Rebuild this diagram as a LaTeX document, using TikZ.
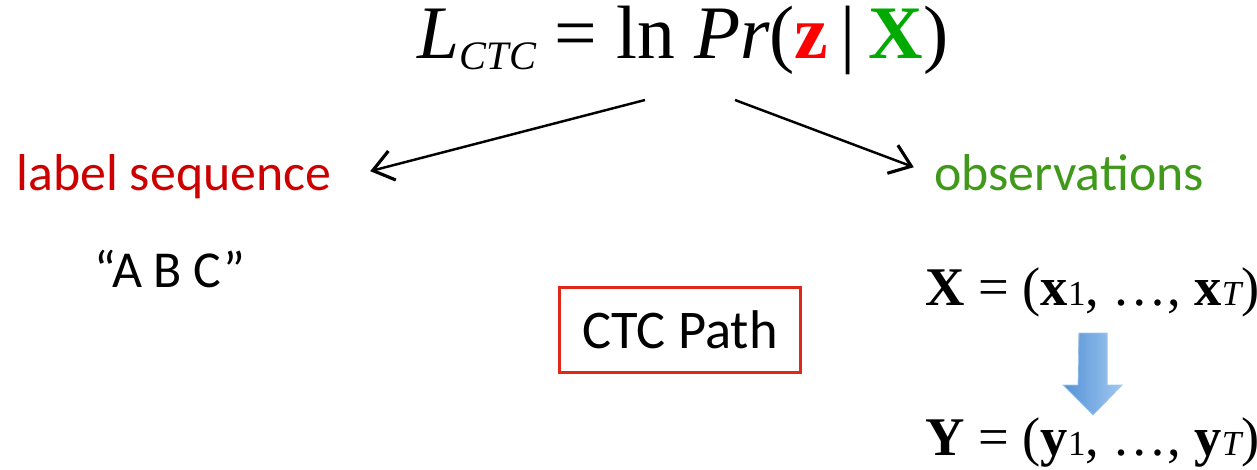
\documentclass[tikz,border=0pt]{standalone}
\usepackage{fontspec}
\setmainfont{Carlito}
\newfontfamily\tms{Liberation Serif}
\usetikzlibrary{arrows.meta,positioning}
\usepackage{xcolor}
\definecolor{lblred}{RGB}{204,0,0}
\definecolor{obsgreen}{RGB}{64,153,26}
\definecolor{zred}{RGB}{255,0,0}
\definecolor{xgreen}{RGB}{0,170,0}
\definecolor{boxred}{RGB}{224,40,20}
\definecolor{arrdark}{RGB}{84,146,214}
\definecolor{arrlight}{RGB}{160,200,240}
\newcommand{\lowsub}[1]{{\fontsize{20}{20}\selectfont #1}}

\begin{document}
\begin{tikzpicture}[
      every node/.style={inner sep=2pt},
      wordtext/.style={font=\fontsize{29.5}{35}\selectfont, anchor=base},
      eqtext/.style={font=\tms\fontsize{31}{37}\selectfont, anchor=base},
      pathbox/.style={
        rectangle, draw=boxred, line width=1.2pt,
        minimum width=4.82cm, minimum height=1.7cm,
        font=\fontsize{31}{37}\selectfont
      },
      arr/.style={-{Straight Barb[length=4mm,width=6mm,line width=1.8pt]}, line width=1.4pt}
    ]
    \useasboundingbox (0,0) rectangle (25.14,-9.38);

    % ===== Top: the loss =====
    \node[anchor=base, inner sep=0pt, font=\tms\fontsize{43}{50}\selectfont] (loss) at (13.66,-1.16)
      {\itshape L\raisebox{-0.24cm}{\fontsize{23}{26}\selectfont CTC}\upshape\ =
       ln\ \itshape Pr\upshape(\textcolor{zred}{\bfseries z}\,|\,\textcolor{xgreen}{\bfseries X})};

    % ===== Left and right: the two arguments =====
    \node[wordtext, text=lblred] (lseq) at (3.48,-3.8) {label sequence};
    \node[wordtext, text=obsgreen] (obs) at (21.38,-3.8) {observations};
    \node[wordtext] (abc) at (3.4,-5.74) {“A B C”};
    \node[pathbox] (ctc) at (13.6,-6.6) {CTC Path};
    \node[eqtext] (xeq) at (21.85,-6.1)
      {\bfseries X \mdseries= (\bfseries x\mdseries\lowsub{1}, …, \bfseries x\mdseries\lowsub{\itshape T})};
    \node[eqtext] (yeq) at (21.85,-9.1)
      {\bfseries Y \mdseries= (\bfseries y\mdseries\lowsub{1}, …, \bfseries y\mdseries\lowsub{\itshape T})};

    % ===== Arrows =====
    \coordinate (lsplit) at (12.9,-2.0);
    \coordinate (rsplit) at (14.7,-2.0);
    \draw[arr] (lsplit) -- ([xshift=0.7cm,yshift=0.1cm]lseq.east);
    \draw[arr] (rsplit) -- ([xshift=-0.33cm,yshift=0.1cm]obs.west);

    % mapping X to Y
    \coordinate (conv) at (21.86,-6.66);
    \filldraw[draw=arrlight, left color=arrdark, right color=arrlight]
      ([xshift=-0.28cm]conv) -- ([xshift=0.28cm]conv)
      -- ++(0,-1.04) -- ++(0.3,0) -- ([yshift=-1.64cm]conv)
      -- ++(-0.6,0.6) -- ++(0.3,0) -- cycle;
  \end{tikzpicture}
\end{document}
